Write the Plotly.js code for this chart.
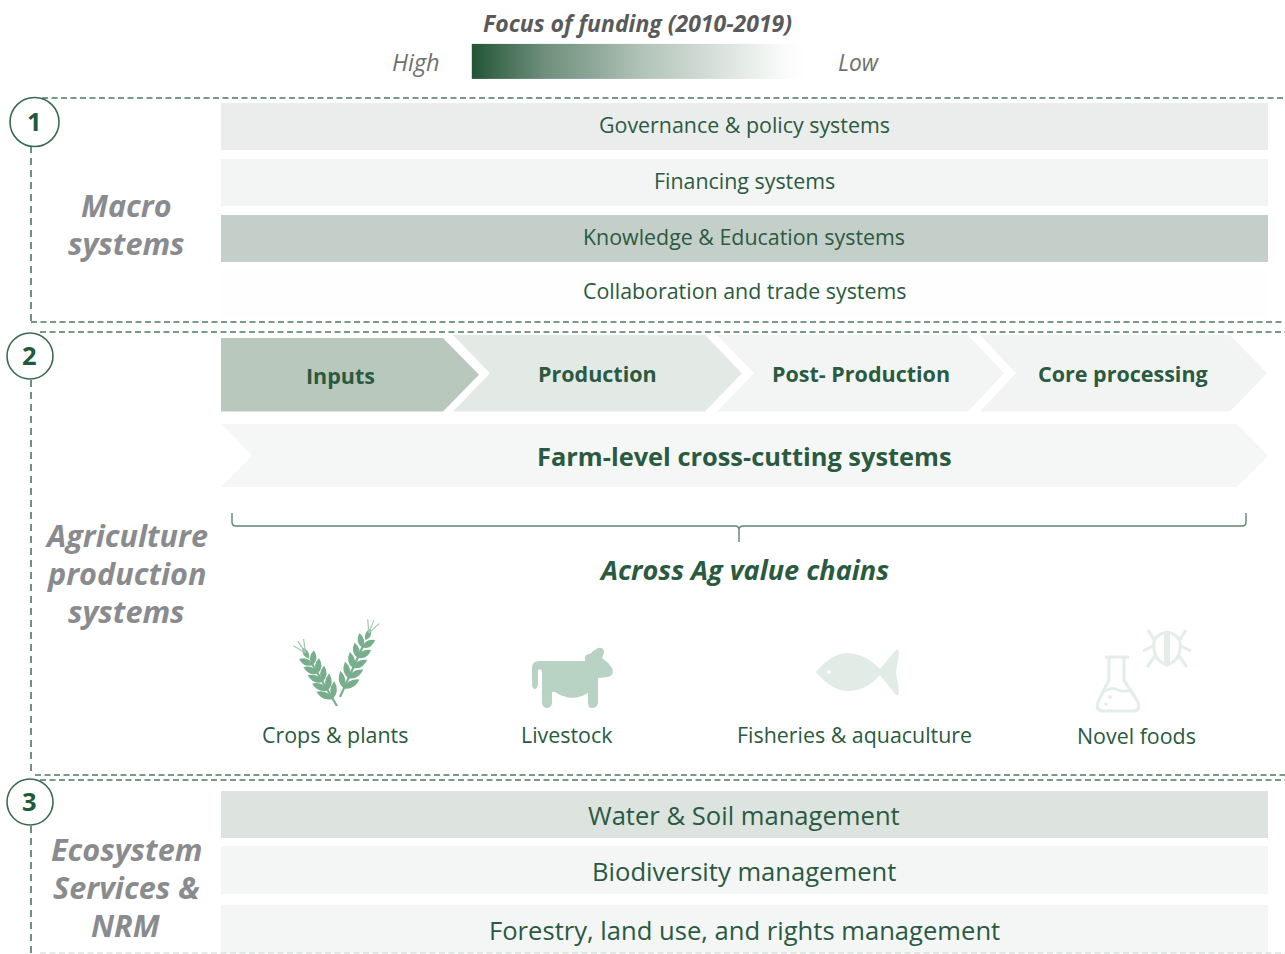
<!DOCTYPE html>
<html><head><meta charset="utf-8">
<script src="https://cdn.plot.ly/plotly-3.0.1.min.js"></script>
<style>html,body{margin:0;padding:0;background:#fff}</style></head>
<body><div id="chart" style="width:1285px;height:954px"></div>
<script>
// ---- data ----
const macroSystems = ["Governance & policy systems","Financing systems","Knowledge & Education systems","Collaboration and trade systems"];
const macroFunding = [0.10,0.055,0.275,0.005];
const ecosystemSystems = ["Water & Soil management","Biodiversity management","Forestry, land use, and rights management"];
const ecosystemFunding = [0.16,0.05,0.05];
const valueChainStages = ["Inputs","Production","Post- Production","Core processing"];
const stageFunding = [0.33,0.13,0.06,0.065];
const crossCutting = "Farm-level cross-cutting systems";
const crossCuttingFunding = 0.045;
const valueChains = ["Crops & plants","Livestock","Fisheries & aquaculture","Novel foods"];
const sectionNames = [["Macro","systems"],["Agriculture","production","systems"],["Ecosystem","Services &","NRM"]];
const sectionNumbers = ["1","2","3"];
const scaleSteps = [1,1,0.88,0.66,0.52,0.36,0.25,0.14,0.03,0,0];

// ---- style ----
const FONT = "Open Sans, Noto Sans, sans-serif";
const DARK = "#2B4F3A", TXT = "#2A5A3F", GREY = "#8A8B8E";
const mix = l => { const c=[43,88,55]; return "rgb("+c.map(v=>Math.round(255-(255-v)*l)).join(",")+")"; };
const rowScale = [[0,"#ffffff"],[1,DARK]];

const ann = [], shapes = [];
function txt(t,x,y,size,color,opt){ opt=opt||{};
  ann.push({text:t,x:x,y:y,xref:"x",yref:"y",showarrow:false,xanchor:"center",yanchor:"middle",
    font:{family:FONT,size:size,color:color,weight:opt.bold?700:400,style:opt.italic?"italic":"normal"}});
}
function path(d,fill,line,w,dash){ shapes.push({type:"path",path:d,xref:"x",yref:"y",fillcolor:fill||"rgba(0,0,0,0)",
  line:{color:line||"rgba(0,0,0,0)",width:w||0,dash:dash}}); }
function dashLine(x0,y0,x1,y1,color,w,dash){ shapes.push({type:"line",x0,y0,x1,y1,xref:"x",yref:"y",line:{color:color,width:w,dash:dash}}); }

// rows
const macroY=[126.5,182.5,238.5,294], macroH=[47,47,47,48];
const ecoY=[814.5,870,929], ecoH=[47,48,48];
const macroTextY=[124,180,236,290], ecoTextY=[815,871,930];
macroSystems.forEach((s,i)=>txt(s,744,macroTextY[i],21.4,TXT));
ecosystemSystems.forEach((s,i)=>txt(s,744,ecoTextY[i],25.6,TXT));

// dashed frames
const DC="#4F7A62";
[[42,98,1285,98],[31,322,1285,322],[40,332,1285,332],[35,775,1285,775],[40,780,1285,780]].forEach(a=>dashLine(a[0],a[1],a[2],a[3],DC,1.5,"6px,3.5px"));
dashLine(40,953,1285,953,"#C9D6CE",1,"6px,3.5px");
[[146,322],[380,775],[826,954]].forEach(a=>dashLine(31,a[0],31,a[1],"#2F6547",1.4,"7px,5px"));

// number circles
[[34.5,122,24.5],[30,356,23],[30,802,23]].forEach((c,i)=>{
  shapes.push({type:"circle",xref:"x",yref:"y",x0:c[0]-c[2],x1:c[0]+c[2],y0:c[1]-c[2],y1:c[1]+c[2],fillcolor:"#fff",line:{color:"#3A6B50",width:1.6}});
  txt(sectionNumbers[i],c[0]-0.5,c[1]-1,25.5,"#1F5A3A",{bold:true});
});

// section names
[[204.5,242.5],[534.5,572.5,610.5],[848.5,886.5,924.5]].forEach((ys,i)=>ys.forEach((y,j)=>txt(sectionNames[i][j],126,y,30.6,GREY,{bold:true,italic:true})));

// chevrons
function chev(l,n,s,t,top,bot,f){ const m=(top+bot)/2;
  path(`M${l},${top} L${s},${top} L${t},${m} L${s},${bot} L${l},${bot} `+(n>l?`L${n},${m} `:"")+"Z",f); }
chev(221,221,443,479,338,411.5,mix(stageFunding[0]));
chev(453,490,705,742,335,411.5,mix(stageFunding[1]));
chev(717,754,968,1004,335,411.5,mix(stageFunding[2]));
chev(980,1016,1230,1267,335,411.5,mix(stageFunding[3]));
chev(221,252,1237,1268,424,487,mix(crossCuttingFunding));
[[340.5,375],[597.5,373],[860.5,373],[1122.5,373]].forEach((p,i)=>txt(valueChainStages[i],p[0],p[1],21.5,TXT,{bold:true}));
txt(crossCutting,744.5,455.5,25.4,TXT,{bold:true});

// brace
path("M232,513 L232,522 Q232,526 236,526 L735,526 Q739,526 739,530 L739,542 L739,530 Q739,526 743,526 L1242,526 Q1246,526 1246,522 L1246,513",null,"#5F8570",1.4);
txt("Across Ag value chains",744,569.5,27.1,TXT,{bold:true,italic:true});

// value-chain labels
[[334.5,734],[567,734],[854.5,734],[1136,735]].forEach((p,i)=>txt(valueChains[i],p[0],p[1],21.4,TXT));

// wheat icon
const WHEAT="#77AE8C";
function leaf(cx,cy,ang,len,wid){ const ca=Math.cos(ang),sa=Math.sin(ang);
  const P=(u,v)=>[(cx+u*ca-v*sa).toFixed(1),(cy+u*sa+v*ca).toFixed(1)].join(",");
  return `M${P(0,0)} Q${P(len*0.45,wid)} ${P(len,0)} Q${P(len*0.45,-wid)} ${P(0,0)} Z `; }
function stalk(x0,y0,x1,y1,n){ let d=""; const ang=Math.atan2(y1-y0,x1-x0);
  path(`M${x0},${y0} L${x0+(x1-x0)*0.75},${y0+(y1-y0)*0.75}`,null,WHEAT,2.2);
  for(let i=0;i<n;i++){ const t=0.12+i*0.72/n, x=x0+(x1-x0)*t, y=y0+(y1-y0)*t, L=18-i*0.8;
    d+=leaf(x,y,ang-0.62,L,6.6)+leaf(x,y,ang+0.62,L,6.6); }
  d+=leaf(x0+(x1-x0)*0.8,y0+(y1-y0)*0.8,ang,13,5.5);
  path(d,WHEAT);
  const tx=x0+(x1-x0)*0.9, ty=y0+(y1-y0)*0.9;
  [-0.5,-0.05,0.4].forEach(a=>{ path(`M${tx},${ty} L${(tx+Math.cos(ang+a)*14).toFixed(1)},${(ty+Math.sin(ang+a)*14).toFixed(1)}`,null,"#A4C9B2",1.2); });
}
stalk(337,706,302,647,5);
stalk(340,697,372,626,5);

// cow
path("M532,684 L532,668 Q532,661 539,661 L585,661 Q584,653 590,654 Q594,650 598,648 Q604,647 604,653 L602,658 Q608,662 612,668 Q615,675 608,677 L598,678 L598,703 Q597,708 592,708 Q588,708 588,703 L588,693 Q572,703 555,692 L552,692 L552,703 Q551,708 547,708 Q543,708 542,703 L542,672 Q541,668 538,670 L538,685 Q537,689 535,689 Q532,689 532,684 Z","#B8D2C3");

// fish
path("M816,672 Q832,653 848,653 Q866,654 880,669 L895,651 Q899,648 899,653 L896,672 L899,692 Q899,697 895,694 L880,675 Q866,691 848,691 Q832,691 816,672 Z","#E1ECE6");
shapes.push({type:"circle",xref:"x",yref:"y",x0:827,x1:831,y0:670,y1:674,fillcolor:"#fff",line:{width:0}});

// flask + bug
const NOV="#E4EEE8";
path("M1105,657 L1129,657 M1109,657 L1109,680 L1098,702 Q1095,711 1104,711 L1133,711 Q1141,711 1138,702 L1124,680 L1124,657",null,NOV,3.2);
path("M1104,692 Q1112,686 1118,690 Q1126,693 1131,689",null,NOV,2.6);
[[1110,697,1.8],[1106,704,1.8]].forEach(c=>shapes.push({type:"circle",xref:"x",yref:"y",x0:c[0]-c[2],x1:c[0]+c[2],y0:c[1]-c[2],y1:c[1]+c[2],fillcolor:NOV,line:{width:0}}));
path("M1167,632 Q1156,634 1154,642 Q1152,660 1167,665 Q1182,660 1180,642 Q1178,634 1167,632 Z",null,NOV,3);
path("M1164,634 L1164,664 L1170,664 L1170,634 Z",NOV);
path("M1148,630 L1155,641 M1186,630 L1179,641 M1143,651 L1153,646 M1191,651 L1181,646 M1147,667 L1155,656 M1187,667 L1179,656",null,NOV,3);

// legend text
txt("Focus of funding (2010-2019)",637,22.5,23,"#5A5A5A",{bold:true,italic:true});
txt("High",415.5,62,23.5,"#6F6F6F",{italic:true});
txt("Low",858.5,62,22.8,"#6F6F6F",{italic:true});

const dataRows={x:macroSystems.map(()=>1047).concat(ecosystemSystems.map(()=>1047)),
  y:macroY.concat(ecoY), width:macroH.concat(ecoH), color:macroFunding.concat(ecosystemFunding)};

// gradient scale: tight end cells so the image spans 472..805 and 44..79
const scaleX=[472,472.4,496,543,591,639,686,734,781,804.6,805];
const scaleY=[44,44.2,78.8,79];
const traces=[
 {type:"bar",orientation:"h",x:dataRows.x,y:dataRows.y,width:dataRows.width,base:221,
  marker:{color:dataRows.color,colorscale:rowScale,cmin:0,cmax:1,line:{width:0}},hoverinfo:"skip",showlegend:false},
 {type:"heatmap",z:scaleY.map(()=>scaleSteps),x:scaleX,y:scaleY,
  zsmooth:"best",zmin:0,zmax:1,colorscale:[[0,"#ffffff"],[1,"#235537"]],showscale:false,hoverinfo:"skip"}
];
Plotly.newPlot("chart",traces,{
  width:1285,height:954,margin:{l:0,r:0,t:0,b:0,pad:0},paper_bgcolor:"#fff",plot_bgcolor:"#fff",showlegend:false,
  xaxis:{range:[0,1285],visible:false,fixedrange:true},
  yaxis:{range:[954,0],visible:false,fixedrange:true},
  shapes:shapes,annotations:ann,bargap:0
},{staticPlot:true,displayModeBar:false});
</script></body></html>
